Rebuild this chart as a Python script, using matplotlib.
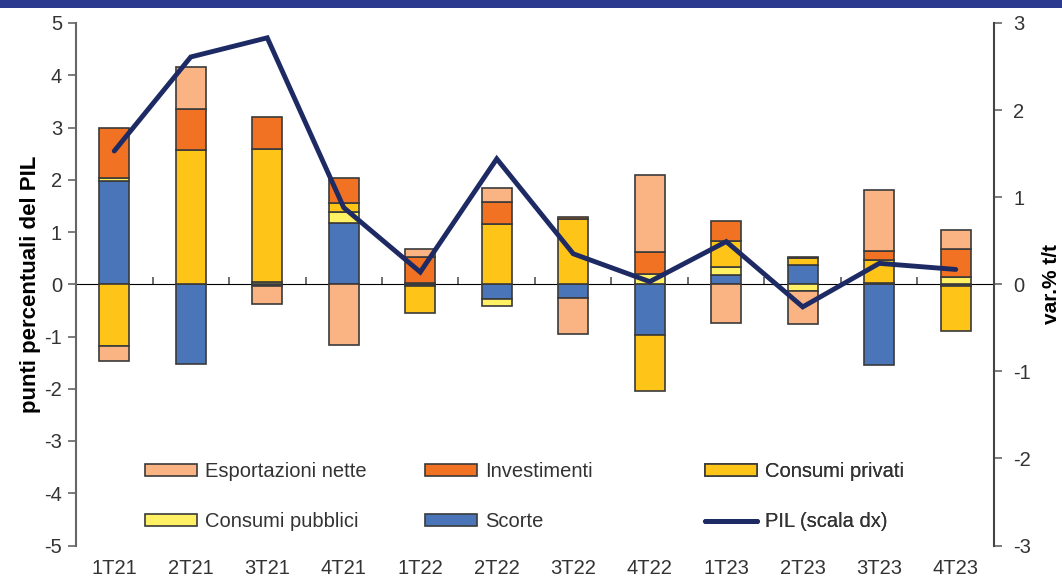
import numpy as np
import matplotlib
matplotlib.use('Agg')
import matplotlib.pyplot as plt
from matplotlib.patches import Rectangle

quarters = ['1T21', '2T21', '3T21', '4T21', '1T22', '2T22',
            '3T22', '4T22', '1T23', '2T23', '3T23', '4T23']

# contributi (punti percentuali del PIL)
scorte = [1.98, -1.52, -0.04, 1.18, -0.03, -0.28, -0.27, -0.98, 0.17, 0.37, -1.54, -0.03]
consumi_pubblici = [0.05, 0.0, 0.05, 0.20, 0.03, -0.14, 0.0, 0.20, 0.16, -0.12, 0.02, 0.13]
consumi_privati = [-1.19, 2.57, 2.53, 0.18, -0.52, 1.16, 1.24, -1.06, 0.50, 0.14, 0.45, -0.86]
investimenti = [0.97, 0.78, 0.63, 0.48, 0.50, 0.41, 0.05, 0.41, 0.39, 0.02, 0.17, 0.54]
esportazioni_nette = [-0.27, 0.81, -0.33, -1.17, 0.14, 0.28, -0.69, 1.48, -0.75, -0.65, 1.17, 0.36]

# PIL, var.% t/t (scala dx)
pil = [1.53, 2.61, 2.83, 0.88, 0.14, 1.44, 0.35, 0.03, 0.49, -0.26, 0.24, 0.17]

series = [
    ('Scorte', scorte, '#4A76B9'),
    ('Consumi pubblici', consumi_pubblici, '#FFF064'),
    ('Consumi privati', consumi_privati, '#FEC418'),
    ('Investimenti', investimenti, '#F07222'),
    ('Esportazioni nette', esportazioni_nette, '#FAB484'),
]

plt.rcParams['font.family'] = ['Liberation Sans', 'DejaVu Sans']
plt.rcParams['text.color'] = '#333333'
plt.rcParams['axes.unicode_minus'] = False

fig = plt.figure(figsize=(10.62, 5.8), dpi=100)
ax = fig.add_axes([76 / 1062, 34.5 / 580, 918 / 1062, 522.5 / 580])

# dark band on top
fig.patches.append(Rectangle((0, 1 - 8 / 580), 1, 8 / 580, transform=fig.transFigure,
                             facecolor='#2B3A8F', edgecolor='none', zorder=0))

x = np.arange(len(quarters))
pos_bottom = np.zeros(len(quarters))
neg_bottom = np.zeros(len(quarters))
handles = {}
for name, vals, color in series:
    v = np.array(vals)
    bottom = np.where(v >= 0, pos_bottom, neg_bottom)
    b = ax.bar(x, v, 0.39, bottom=bottom, color=color, edgecolor='#3a3a3a',
               linewidth=1.2, label=name, zorder=2)
    handles[name] = b
    pos_bottom += np.where(v >= 0, v, 0)
    neg_bottom += np.where(v < 0, v, 0)

ax.set_xlim(-0.5, len(quarters) - 0.5)
ax.set_ylim(-5, 5)
ax.set_yticks(range(-5, 6))
ax.set_xticks(x)
ax.set_xticklabels(quarters)
ax.tick_params(axis='x', length=0, pad=10, labelsize=14.5, labelcolor='#333333')
ax.tick_params(axis='y', length=6, width=1.2, color='#666666', labelsize=14.5,
               labelcolor='#333333', pad=4)
for s in ['top', 'right', 'bottom']:
    ax.spines[s].set_visible(False)
ax.spines['left'].set_color('#666666')
ax.spines['left'].set_linewidth(1.5)
ax.set_ylabel('punti percentuali del PIL', fontsize=16, fontweight='bold', labelpad=2)

# zero line with category separators
zero_ax = ax.secondary_xaxis(0.5)
zero_ax.set_xticks(np.arange(0.5, len(quarters) - 0.5, 1.0))
zero_ax.tick_params(axis='x', length=5, width=1.2, color='#555555', labelbottom=False,
                    labeltop=False)
zero_ax.spines['bottom'].set_color('#666666')
zero_ax.spines['bottom'].set_linewidth(1.5)

ax2 = ax.twinx()
line, = ax2.plot(x, pil, color='#1D2A63', linewidth=3.5, solid_capstyle='round',
                 solid_joinstyle='miter', label='PIL (scala dx)', zorder=5)
ax2.set_ylim(-3, 3)
ax2.set_yticks(range(-3, 4))
ax2.tick_params(axis='y', length=6, width=1.2, color='#666666', labelsize=14.5,
                labelcolor='#333333', pad=8)
for s in ['top', 'left', 'bottom']:
    ax2.spines[s].set_visible(False)
ax2.spines['right'].set_color('#444444')
ax2.spines['right'].set_linewidth(1.5)
ax2.set_ylabel('var.% t/t', fontsize=15, fontweight='bold', labelpad=8)

# legend, three columns placed at fixed positions
columns = [
    [handles['Esportazioni nette'], handles['Consumi pubblici']],
    [handles['Investimenti'], handles['Scorte']],
    [handles['Consumi privati'], line],
]
col_x = [145, 425, 705]
for hs, cx in zip(columns, col_x):
    leg = ax2.legend(hs, [h.get_label() for h in hs], loc='upper left',
                     bbox_to_anchor=(cx / 1062, 1 - 462 / 580),
                     bbox_transform=fig.transFigure, frameon=False, fontsize=14.5,
                     handlelength=2.6, handleheight=0.55, handletextpad=0.4,
                     labelspacing=1.55, borderpad=0, borderaxespad=0)
    ax2.add_artist(leg)

fig.savefig('out.png', dpi=100)
